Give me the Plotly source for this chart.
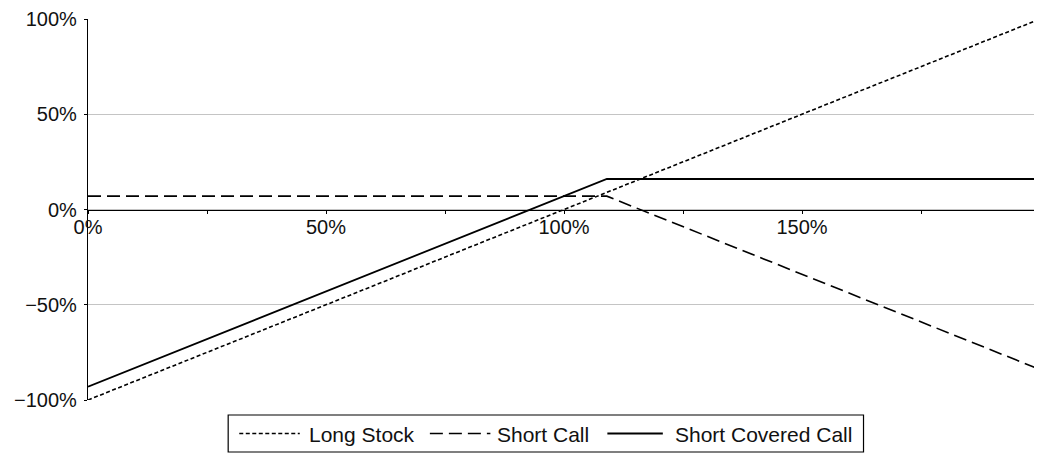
import plotly.graph_objects as go

# Data
price = [0, 109, 200]             # stock price at expiry, % of initial
long_stock = [-100, 9, 100]
short_call = [7, 7, -84]
short_covered_call = [-93, 16, 16]

series_names = ["Long Stock", "Short Call", "Short Covered Call"]

x_tickvals = [0, 25, 50, 75, 100, 125, 150, 175, 200]
x_ticktext = ["0%", "", "50%", "", "100%", "", "150%", "", ""]
y_tickvals = [-100, -50, 0, 50, 100]
y_ticktext = ["\u2212100%", "\u221250%", "0%", "50%", "100%"]

font_family = "Liberation Sans, Arial, sans-serif"

# The page body has an 8px default margin, so the figure is sized and laid out
# in screen coordinates shifted by OFF.
OFF = 8
SW, SH = 1042, 458
W, H = SW - OFF, SH - OFF
PLOT_L, PLOT_R, PLOT_T, PLOT_B = 88, 1032, 19, 400   # screen px of plot area
ML, MR, MT, MB = PLOT_L - OFF, SW - PLOT_R - OFF, PLOT_T - OFF, SH - PLOT_B
PW, PH = PLOT_R - PLOT_L, PLOT_B - PLOT_T

styles = [
    dict(color="black", width=1.6, dash="4px,2.5px"),
    dict(color="black", width=1.6, dash="13px,6px"),
    dict(color="black", width=1.8, dash="solid"),
]

fig = go.Figure()
for name, ys, st in zip(series_names, [long_stock, short_call, short_covered_call], styles):
    fig.add_trace(go.Scatter(x=price, y=ys, mode="lines", name=name, line=st, showlegend=False))


def px(x):
    return (x - PLOT_L) / PW


def py(y):
    return (PLOT_B - y) / PH


# Legend drawn by hand (longer line samples, as in the reference)
fig.add_shape(type="rect", xref="paper", yref="paper",
              x0=px(227), x1=px(857), y0=py(415), y1=py(452),
              line=dict(color="black", width=1.2), fillcolor="white", layer="above")
legend_line_x = [(238, 298), (427, 487), (603, 658)]
legend_text_x = [305, 492, 668]
ly = 433.5
for name, st, (a, b), tx in zip(series_names, styles, legend_line_x, legend_text_x):
    fig.add_shape(type="line", xref="paper", yref="paper",
                  x0=px(a), x1=px(b), y0=py(ly), y1=py(ly),
                  line=dict(color=st["color"], width=st["width"], dash=st["dash"]))
    fig.add_annotation(text=name, xref="paper", yref="paper", x=px(tx), y=py(ly + 1),
                       xanchor="left", yanchor="middle", showarrow=False,
                       font=dict(size=21, family=font_family, color="#111111"))

fig.update_layout(
    width=W, height=H,
    margin=dict(l=ML, r=MR, t=MT, b=MB, autoexpand=False),
    paper_bgcolor="white", plot_bgcolor="white",
    font=dict(family=font_family, size=20, color="#111111"),
    showlegend=False,
    xaxis=dict(range=[0, 200], tickvals=x_tickvals, ticktext=x_ticktext,
               showgrid=False, zeroline=False, showline=True, linecolor="black", linewidth=1.2,
               ticks="outside", ticklen=3, tickcolor="black", automargin=False,
               ticklabelstandoff=-4,
               anchor="free", position=0.5, layer="above traces"),
    yaxis=dict(range=[-100, 100], tickvals=y_tickvals, ticktext=y_ticktext,
               showgrid=True, gridcolor="#c4c4c4", gridwidth=1.2, zeroline=False,
               showline=True, linecolor="black", linewidth=1.2, automargin=False,
               ticklabelstandoff=3,
               ticks="outside", ticklen=3, tickcolor="black"),
)

fig.write_html("out.html")
